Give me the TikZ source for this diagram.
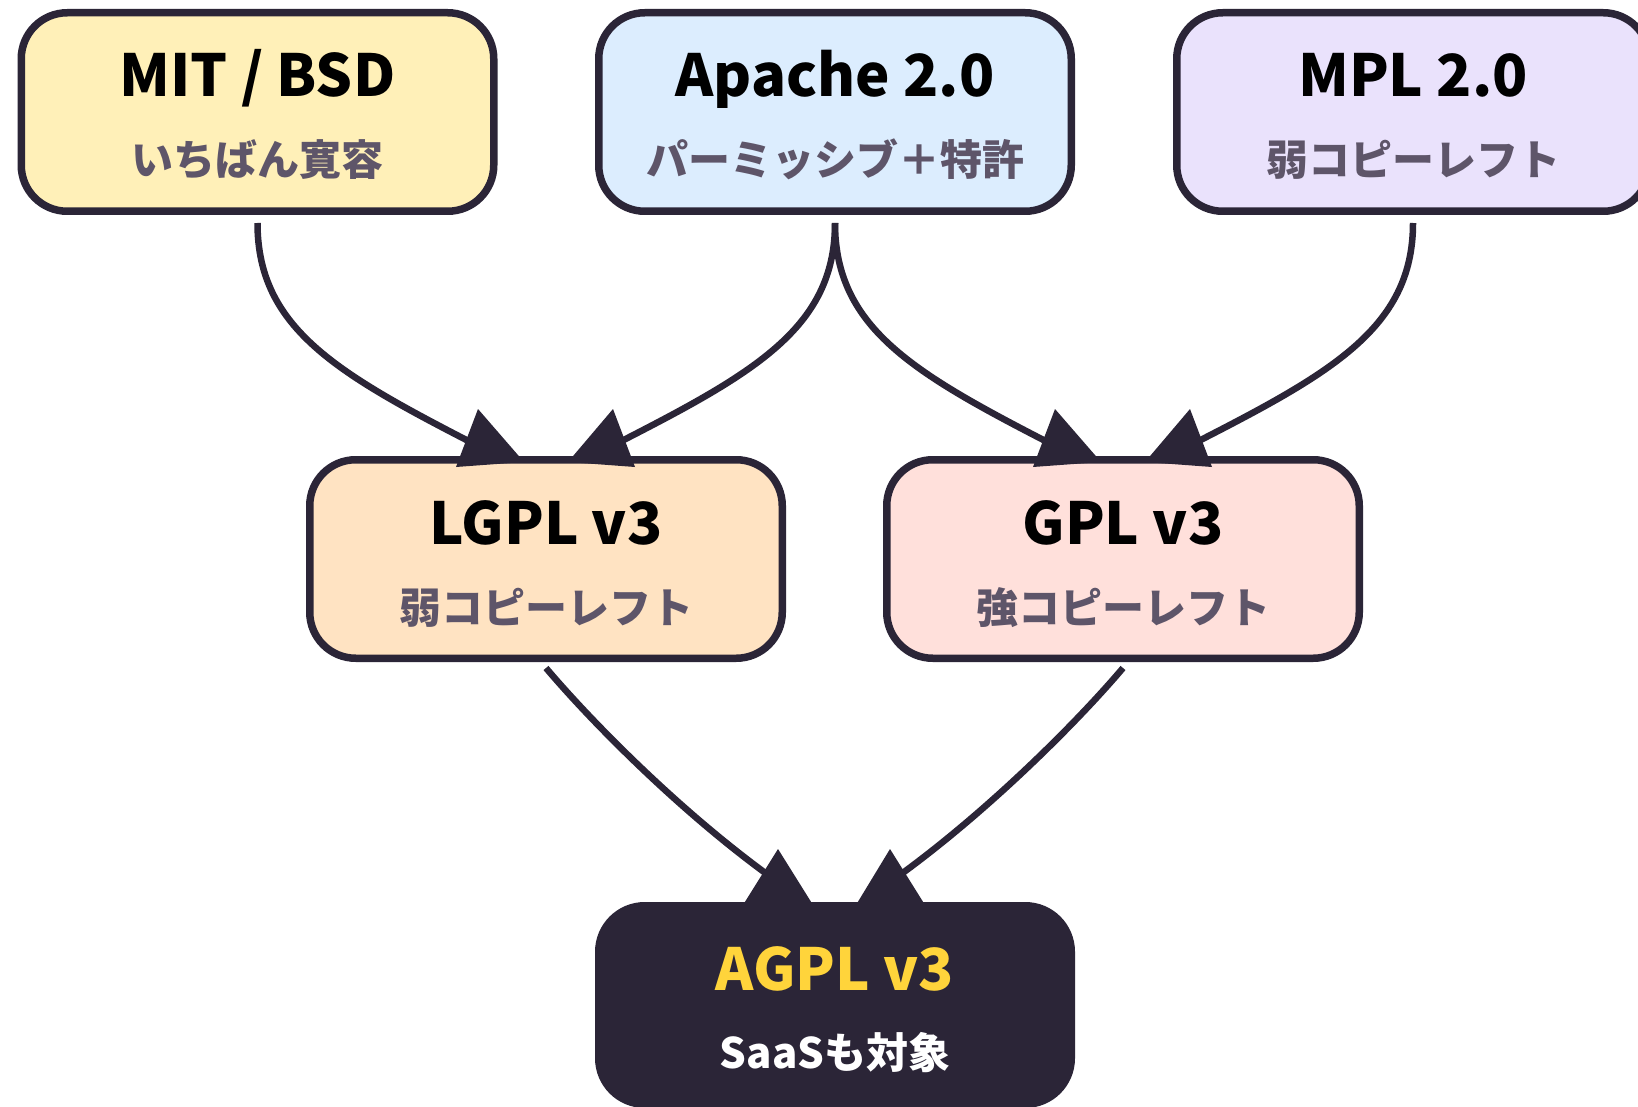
\documentclass[tikz,border=0pt]{standalone}
\usepackage{fontspec}
\setmainfont{Noto Sans CJK JP}
\usetikzlibrary{calc}
\definecolor{ink}{HTML}{2B2537}
\definecolor{subc}{HTML}{5E5569}
\definecolor{fmit}{HTML}{FFF0B8}
\definecolor{fapache}{HTML}{DCEDFE}
\definecolor{fmpl}{HTML}{EAE2FC}
\definecolor{flgpl}{HTML}{FFE3C2}
\definecolor{fgpl}{HTML}{FFE0DB}
\definecolor{gold}{HTML}{FFD43B}
\begin{document}
\begin{tikzpicture}[x=1pt,y=-1pt,
  box/.style={draw=ink, line width=7.5pt, rounded corners=46pt, minimum width=472.5pt, minimum height=198.5pt, inner sep=0pt},
  ttl/.style={anchor=base, inner sep=0pt, font=\fontsize{58}{58}\selectfont\bfseries},
  sub/.style={anchor=base, inner sep=0pt, text=subc, font=\fontsize{42}{42}\selectfont\bfseries},
  conn/.style={draw=ink, line width=6.5pt},
  tipc/.style={fill=ink}]
\useasboundingbox[fill=white] (0,0) rectangle (1638,1107);

% boxes
\node[box, fill=fmit] (mit) at (257.5,112) {};
\node[box, fill=fapache] (apache) at (835,112) {};
\node[box, fill=fmpl] (mpl) at (1413,112) {};
\node[box, fill=flgpl] (lgpl) at (546,559) {};
\node[box, fill=fgpl] (gpl) at (1123,559) {};
\node[box, fill=ink] (agpl) at (835,1005) {};

% texts
\node[ttl] (mitT) at ($(mit.center)+(0,-15)$) {MIT / BSD};
\node[sub] (mitS) at ($(mit.center)+(0,64)$) {いちばん寛容};
\node[ttl] (apacheT) at ($(apache.center)+(0,-15)$) {Apache 2.0};
\node[sub] (apacheS) at ($(apache.center)+(0,64)$) {パーミッシブ＋特許};
\node[ttl] (mplT) at ($(mpl.center)+(0,-15)$) {MPL 2.0};
\node[sub] (mplS) at ($(mpl.center)+(0,64)$) {弱コピーレフト};
\node[ttl] (lgplT) at ($(lgpl.center)+(0,-15)$) {LGPL v3};
\node[sub] (lgplS) at ($(lgpl.center)+(0,64)$) {弱コピーレフト};
\node[ttl] (gplT) at ($(gpl.center)+(0,-15)$) {GPL v3};
\node[sub] (gplS) at ($(gpl.center)+(0,64)$) {強コピーレフト};
\node[ttl, text=gold] (agplT) at ($(agpl.center)+(0,-15)$) {AGPL v3};
\node[sub, text=white] (agplS) at ($(agpl.center)+(0,63)$) {SaaSも対象};

% connectors
\draw[conn] ($(mit.south)+(0,8)$) .. controls +(0,107) and +(-142,-73) .. ($(lgpl.north)+(-64,-8)$);
\draw[conn] ($(apache.south)+(0,8)$) .. controls +(0,107) and +(143,-73) .. ($(lgpl.north)+(62,-8)$);
\draw[conn] ($(apache.south)+(0,8)$) .. controls +(0,107) and +(-142,-73) .. ($(gpl.north)+(-64,-8)$);
\draw[conn] ($(mpl.south)+(0,8)$) .. controls +(0,107) and +(143,-73) .. ($(gpl.north)+(62,-8)$);
\draw[conn] ($(lgpl.south)+(0,6)$) .. controls +(44,52) and +(-95,-68) .. ($(agpl.north)+(-60,-22)$);
\draw[conn] ($(gpl.south)+(0,6)$) .. controls +(-44,52) and +(95,-68) .. ($(agpl.north)+(58,-22)$);

% arrow heads
\foreach \n in {lgpl,gpl}{
  \fill[tipc] ($(\n.north)+(-68,-47)$) -- ($(\n.north)+(-90,11)$) -- ($(\n.north)+(-22,6)$) -- cycle;
  \fill[tipc] ($(\n.north)+(67,-47)$) -- ($(\n.north)+(89,11)$) -- ($(\n.north)+(22,6)$) -- cycle;
}
\fill[tipc] ($(agpl.north)+(-57,-53)$) -- ($(agpl.north)+(-92,3)$) -- ($(agpl.north)+(-22,3)$) -- cycle;
\fill[tipc] ($(agpl.north)+(55,-53)$) -- ($(agpl.north)+(90,3)$) -- ($(agpl.north)+(21,3)$) -- cycle;
\end{tikzpicture}
\end{document}
